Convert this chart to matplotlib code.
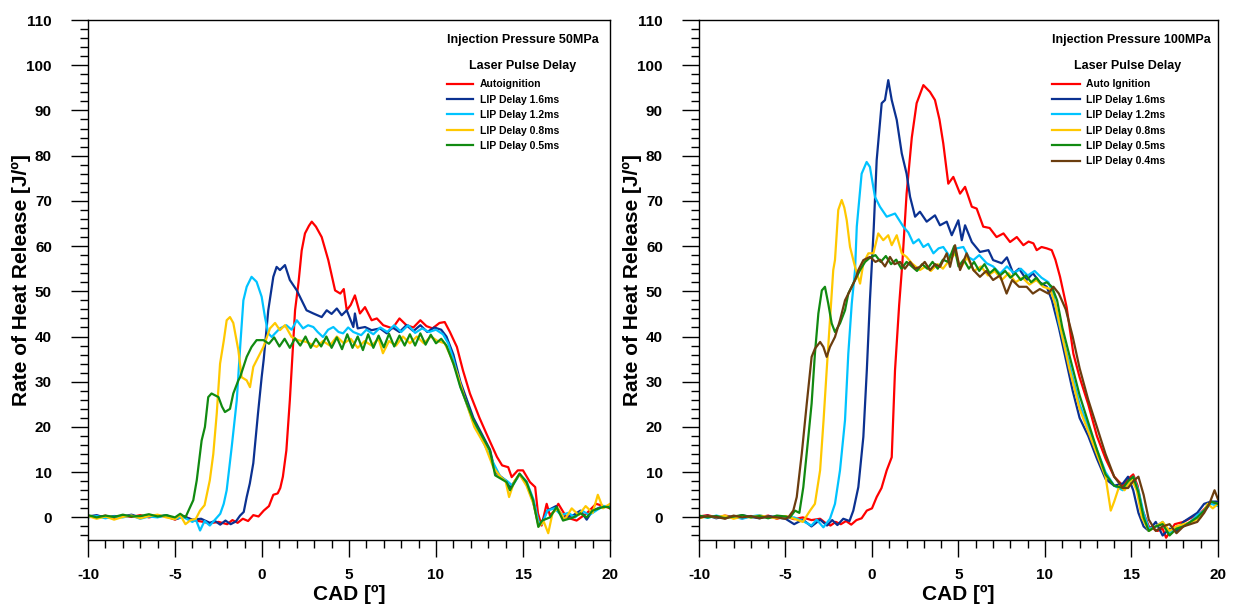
import matplotlib
matplotlib.use("Agg")
import matplotlib.pyplot as plt
from matplotlib.ticker import MultipleLocator

plt.rcParams['font.family'] = ['Liberation Sans', 'DejaVu Sans']
plt.rcParams['font.weight'] = 'bold'
plt.rcParams['axes.unicode_minus'] = False

# ---------- dados (CAD, J/º) ----------
# painel esquerdo: pressão de injeção 50 MPa
L_AUTO = [(-10, 0.3), (-9.5, 0.0), (-9, 0.4), (-8.5, -0.2), (-8, 0.3), (-7.5, 0.1), (-7, 0.5), (-6.5, 0.0),
          (-6, 0.4), (-5.5, 0.2), (-5, -0.5), (-4.5, 0.3), (-4, -0.6), (-3.5, -0.9), (-3, -1.3), (-2.5, -1.0),
          (-2, -1.5), (-1.7, -0.6), (-1.4, -1.2), (-1.1, -0.3), (-0.8, -0.8), (-0.5, 0.5), (-0.2, 0.2),
          (0.1, 1.5), (0.4, 2.5), (0.65, 5.0), (0.9, 5.3), (1.05, 6.5), (1.2, 9.0), (1.4, 14.8), (1.6, 25.9),
          (1.9, 45.8), (2.1, 52.0), (2.28, 59.0), (2.47, 62.8), (2.7, 64.5), (2.86, 65.4), (3.1, 64.3),
          (3.43, 62.0), (3.81, 56.9), (4.2, 50.2), (4.5, 49.5), (4.7, 50.5), (4.87, 45.8), (5.1, 47.0),
          (5.34, 49.1), (5.63, 45.1), (5.92, 46.5), (6.3, 43.6), (6.6, 44.0), (6.97, 42.5), (7.2, 42.2),
          (7.5, 41.8), (7.9, 44.0), (8.3, 42.5), (8.7, 42.0), (9.1, 43.6), (9.45, 42.3), (9.8, 41.8),
          (10.2, 43.0), (10.5, 43.2), (10.8, 41.0), (11.2, 37.7), (11.55, 32.5), (11.95, 27.4), (12.5, 22.0),
          (12.9, 18.5), (13.5, 13.4), (13.8, 11.5), (14.15, 11.1), (14.35, 8.9), (14.7, 10.4), (15.0, 10.4),
          (15.4, 7.8), (15.7, 6.7), (15.86, 0.9), (16.07, -1.8), (16.36, 3.0), (16.55, 0.4), (16.8, 1.5),
          (17.03, 3.0), (17.5, 0.0), (18.08, -0.7), (18.66, 0.9), (19.2, 3.0), (19.8, 2.3), (20, 2.0)]

L_D16 = [(-10, 0.2), (-9.5, 0.5), (-9, -0.1), (-8.5, 0.3), (-8, 0.2), (-7.5, 0.6), (-7, 0.0), (-6.5, 0.4),
         (-6, 0.1), (-5.5, 0.5), (-5, -0.4), (-4.5, 0.2), (-4, -0.5), (-3.5, -0.3), (-3, -1.2), (-2.7, -0.8),
         (-2.4, -1.6), (-2.1, -0.7), (-1.8, -1.5), (-1.5, -0.9), (-1.26, 0.4), (-1.05, 1.2), (-0.88, 4.5),
         (-0.7, 7.5), (-0.5, 12.0), (-0.23, 23.0), (-0.02, 31.0), (0.1, 35.0), (0.36, 45.8), (0.65, 53.2),
         (0.84, 55.4), (1.03, 54.7), (1.32, 55.8), (1.6, 52.5), (2.0, 50.2), (2.56, 45.8), (2.95, 45.1),
         (3.43, 44.3), (3.72, 45.8), (4.0, 45.0), (4.3, 46.2), (4.58, 44.7), (4.87, 45.8), (5.25, 42.1),
         (5.34, 45.1), (5.5, 41.8), (5.92, 42.1), (6.3, 41.4), (6.78, 41.8), (7.17, 40.7), (7.5, 42.0),
         (7.9, 41.0), (8.3, 42.5), (8.7, 41.2), (9.1, 42.5), (9.5, 41.0), (9.9, 42.0), (10.3, 41.5),
         (10.6, 40.0), (11.0, 36.0), (11.4, 30.0), (12.15, 22.0), (13.1, 15.0), (13.4, 10.0), (14.06, 8.0),
         (14.25, 6.5), (14.8, 9.5), (15.2, 7.5), (15.58, 3.5), (15.88, -1.5), (16.1, -1.0), (16.4, 1.5),
         (16.9, 2.5), (17.3, 0.0), (17.9, 0.5), (18.3, 1.5), (18.66, -0.5), (19.0, 1.5), (19.6, 2.5), (20, 2.5)]

L_D12 = [(-10, 0.0), (-9.5, 0.3), (-9, -0.2), (-8.5, 0.2), (-8, 0.0), (-7.5, 0.4), (-7, -0.3), (-6.5, 0.2),
         (-6, 0.0), (-5.5, 0.5), (-5, -0.3), (-4.5, 0.0), (-4, -1.0), (-3.8, -0.5), (-3.56, -2.9), (-3.3, -0.8),
         (-3.0, -1.8), (-2.7, -0.5), (-2.4, 0.8), (-2.2, 3.0), (-2.03, 6.0), (-1.74, 15.6), (-1.45, 25.9),
         (-1.25, 38.0), (-1.07, 48.0), (-0.88, 51.0), (-0.6, 53.2), (-0.31, 52.1), (-0.02, 48.8), (0.17, 44.3),
         (0.36, 40.7), (0.56, 39.9), (0.75, 40.7), (1.03, 41.8), (1.4, 42.5), (1.7, 41.5), (2.0, 43.6),
         (2.36, 41.8), (2.65, 42.5), (2.95, 42.1), (3.2, 41.0), (3.5, 39.9), (3.8, 41.5), (4.1, 42.1),
         (4.4, 41.0), (4.66, 40.7), (4.95, 42.0), (5.25, 41.0), (5.7, 40.3), (6.0, 41.5), (6.4, 40.5),
         (6.8, 42.0), (7.2, 41.0), (7.6, 42.5), (8.0, 41.0), (8.4, 42.5), (8.8, 40.8), (9.2, 41.8), (9.6, 41.0),
         (10.0, 41.5), (10.4, 40.5), (10.7, 38.5), (11.0, 35.0), (11.4, 29.0), (12.1, 21.5), (12.8, 16.0),
         (13.3, 12.0), (13.7, 9.0), (14.1, 8.0), (14.4, 7.0), (14.8, 9.5), (15.2, 8.0), (15.6, 4.0),
         (15.9, -1.0), (16.1, -1.5), (16.4, 1.5), (16.8, 2.0), (17.2, 0.5), (17.6, 1.0), (18.0, 0.0),
         (18.4, 1.5), (18.8, 0.5), (19.2, 1.5), (19.6, 2.5), (20, 2.5)]

L_D08 = [(-10, 0.3), (-9.5, -0.3), (-9, 0.2), (-8.5, -0.5), (-8, 0.1), (-7.5, 0.4), (-7, -0.2), (-6.5, 0.3),
         (-6, 0.6), (-5.5, 0.0), (-5, -0.4), (-4.7, 0.5), (-4.4, -1.5), (-4.1, -0.6), (-3.8, -0.3),
         (-3.56, 1.5), (-3.3, 2.7), (-3.0, 8.2), (-2.8, 14.0), (-2.6, 23.0), (-2.41, 34.0), (-2.2, 39.0),
         (-2.03, 43.6), (-1.84, 44.3), (-1.65, 43.0), (-1.36, 37.0), (-1.17, 31.0), (-0.88, 30.3),
         (-0.69, 28.8), (-0.5, 33.3), (-0.21, 35.5), (0.08, 37.7), (0.46, 41.8), (0.75, 43.0), (1.03, 41.4),
         (1.32, 42.5), (1.7, 39.9), (2.07, 39.2), (2.56, 38.8), (3.14, 37.7), (3.5, 39.0), (3.9, 38.0),
         (4.3, 40.0), (4.7, 38.5), (5.1, 39.5), (5.5, 37.5), (5.9, 39.0), (6.3, 38.0), (6.7, 39.5),
         (6.95, 36.3), (7.3, 39.0), (7.7, 38.0), (8.1, 40.0), (8.5, 38.5), (8.9, 40.0), (9.3, 38.5),
         (9.7, 40.0), (10.1, 39.0), (10.5, 38.5), (10.8, 36.0), (11.2, 32.0), (11.6, 27.0), (12.2, 20.0),
         (12.8, 16.0), (13.3, 11.0), (13.7, 9.0), (14.0, 8.0), (14.2, 4.5), (14.5, 8.0), (14.8, 9.5),
         (15.2, 7.0), (15.6, 3.0), (15.9, -2.0), (16.2, -1.0), (16.45, -3.5), (16.7, 1.0), (17.0, 2.0),
         (17.4, -0.5), (17.8, 2.0), (18.2, 0.5), (18.6, 2.5), (19.0, 1.0), (19.3, 5.0), (19.6, 2.0), (20, 3.0)]

L_D05 = [(-10, 0.5), (-9.5, 0.0), (-9, 0.4), (-8.5, 0.1), (-8, 0.6), (-7.5, 0.2), (-7, 0.3), (-6.5, 0.7),
         (-6, 0.2), (-5.5, 0.5), (-5.0, 0.0), (-4.7, 0.8), (-4.4, 0.0), (-4.14, 2.2), (-3.95, 3.8),
         (-3.75, 8.2), (-3.47, 17.0), (-3.28, 20.0), (-3.09, 26.6), (-2.9, 27.4), (-2.7, 27.0), (-2.5, 26.6),
         (-2.3, 24.5), (-2.13, 23.3), (-1.84, 24.0), (-1.65, 27.4), (-1.36, 30.3), (-1.26, 31.0),
         (-0.88, 35.5), (-0.6, 37.7), (-0.31, 39.2), (0.08, 39.2), (0.4, 38.4), (0.7, 39.8), (1.0, 37.8),
         (1.3, 39.5), (1.6, 37.5), (1.9, 39.6), (2.2, 38.0), (2.5, 40.0), (2.8, 37.5), (3.1, 39.5), (3.4, 37.8),
         (3.7, 40.0), (4.0, 37.5), (4.3, 39.8), (4.6, 37.2), (4.9, 40.5), (5.2, 37.5), (5.5, 40.0), (5.8, 37.0),
         (6.1, 40.5), (6.4, 37.5), (6.7, 40.2), (7.0, 37.6), (7.3, 40.6), (7.6, 37.8), (7.9, 40.2), (8.2, 38.0),
         (8.5, 40.5), (8.8, 38.0), (9.1, 40.7), (9.4, 38.2), (9.7, 40.4), (10.0, 38.5), (10.3, 39.5),
         (10.6, 38.0), (11.0, 34.0), (11.4, 28.8), (12.15, 21.5), (13.1, 14.8), (13.4, 9.3), (14.06, 7.8),
         (14.25, 6.0), (14.8, 9.7), (15.2, 7.8), (15.58, 3.8), (15.88, -2.1), (16.1, -0.7), (16.55, 0.0),
         (16.93, 2.3), (17.3, -0.7), (17.9, 0.0), (18.3, 0.9), (18.66, 0.0), (19.0, 1.5), (19.6, 2.3),
         (19.9, 2.3), (20, 2.0)]

# painel direito: pressão de injeção 100 MPa
R_AUTO = [(-10, 0.2), (-9.5, 0.5), (-9, 0.0), (-8.5, 0.4), (-8, 0.1), (-7.5, -0.2), (-7, 0.3), (-6.5, 0.0),
          (-6, 0.4), (-5.5, -0.3), (-5, 0.2), (-4.5, -0.4), (-4, 0.0), (-3.5, -0.6), (-3, -0.3), (-2.7, -1.2),
          (-2.4, -1.8), (-2.1, -1.0), (-1.8, -1.5), (-1.5, -0.8), (-1.2, -1.6), (-0.9, -0.6), (-0.6, -0.2),
          (-0.3, 1.5), (0.0, 2.0), (0.27, 4.5), (0.55, 6.5), (0.85, 10.4), (1.14, 13.3), (1.33, 32.5),
          (1.57, 47.0), (1.75, 56.0), (2.0, 71.6), (2.3, 84.0), (2.58, 91.6), (2.97, 95.6), (3.35, 94.1),
          (3.64, 92.3), (3.9, 88.0), (4.12, 82.7), (4.41, 73.8), (4.7, 75.3), (5.09, 71.6), (5.38, 73.1),
          (5.77, 68.7), (6.05, 68.3), (6.43, 64.3), (6.8, 64.0), (7.2, 62.0), (7.6, 62.8), (7.98, 60.9),
          (8.37, 62.0), (8.75, 60.2), (9.05, 61.0), (9.33, 60.6), (9.52, 59.1), (9.8, 59.8), (10.1, 59.5),
          (10.39, 59.1), (10.6, 57.0), (10.87, 53.2), (11.25, 46.5), (11.64, 36.2), (12.0, 31.0), (12.5, 25.0),
          (13.0, 18.0), (13.5, 13.0), (14.0, 9.0), (14.5, 7.0), (14.8, 8.5), (15.1, 9.5), (15.35, 7.0),
          (15.6, 2.0), (16.0, -2.0), (16.5, -3.0), (16.8, -2.5), (17.0, -4.5), (17.5, -1.5), (18.0, -1.0),
          (18.5, 0.0), (19.0, 1.0), (19.5, 3.0), (20, 3.0)]

R_D16 = [(-10, 0.0), (-9.5, 0.4), (-9, -0.2), (-8.5, 0.3), (-8, 0.0), (-7.5, 0.5), (-7, 0.1), (-6.5, -0.2),
         (-6, 0.3), (-5.5, 0.0), (-5, -0.3), (-4.5, -1.5), (-4, -0.5), (-3.5, -2.0), (-3.0, -0.5), (-2.6, -1.8),
         (-2.3, -0.6), (-2.0, -1.7), (-1.66, -0.3), (-1.3, -0.8), (-1.08, 1.5), (-0.79, 6.7), (-0.5, 17.8),
         (-0.3, 32.5), (-0.12, 48.0), (0.1, 64.0), (0.27, 79.0), (0.56, 91.6), (0.75, 92.3), (0.94, 96.7),
         (1.14, 92.3), (1.43, 87.9), (1.72, 80.5), (2.0, 76.0), (2.2, 70.9), (2.49, 66.5), (2.77, 67.6),
         (3.16, 65.4), (3.64, 66.8), (3.93, 64.6), (4.32, 65.4), (4.61, 62.4), (4.99, 65.7), (5.19, 61.3),
         (5.38, 64.6), (5.77, 60.9), (6.24, 58.7), (6.73, 59.1), (7.0, 56.9), (7.5, 56.2), (7.8, 57.5),
         (8.17, 53.9), (8.5, 55.0), (8.94, 52.5), (9.3, 54.0), (9.7, 52.0), (10.1, 51.0), (10.4, 48.0),
         (10.8, 42.0), (11.2, 35.0), (11.6, 28.0), (12.0, 22.0), (12.5, 18.0), (13.0, 13.0), (13.5, 8.5),
         (14.0, 7.0), (14.5, 7.5), (14.8, 9.0), (15.1, 6.0), (15.4, 1.0), (15.7, -2.0), (16.0, -3.0),
         (16.4, -1.0), (16.8, -4.0), (17.2, -2.5), (17.6, -3.0), (18.0, -1.0), (18.4, 0.0), (18.8, 1.0),
         (19.2, 3.0), (19.6, 3.5), (20, 3.5)]

R_D12 = [(-10, 0.3), (-9.5, -0.1), (-9, 0.4), (-8.5, 0.0), (-8, 0.2), (-7.5, -0.3), (-7, 0.2), (-6.5, 0.5),
         (-6, -0.1), (-5.5, 0.3), (-5, 0.0), (-4.5, 0.0), (-4.0, -0.8), (-3.5, -1.8), (-3.2, -0.5),
         (-2.81, -2.2), (-2.43, -0.3), (-2.14, 3.0), (-1.85, 10.4), (-1.56, 21.5), (-1.37, 36.2),
         (-1.17, 47.3), (-0.98, 54.7), (-0.88, 64.3), (-0.6, 76.0), (-0.31, 78.6), (-0.12, 77.5), (0.17, 70.9),
         (0.46, 68.7), (0.85, 66.5), (1.33, 67.2), (1.81, 64.3), (2.1, 63.0), (2.39, 60.6), (2.7, 61.5),
         (2.97, 59.8), (3.25, 60.5), (3.55, 58.4), (3.85, 59.5), (4.12, 59.8), (4.51, 57.6), (4.9, 59.5),
         (5.28, 59.8), (5.6, 57.5), (5.86, 56.9), (6.2, 58.0), (6.63, 56.2), (7.0, 55.5), (7.4, 53.9),
         (7.8, 55.5), (8.2, 54.0), (8.6, 55.0), (9.0, 53.5), (9.4, 54.5), (9.8, 53.0), (10.2, 52.0),
         (10.5, 49.0), (10.8, 43.0), (11.2, 37.0), (11.6, 31.0), (12.0, 25.0), (12.5, 20.0), (13.0, 15.0),
         (13.5, 10.0), (14.0, 7.0), (14.5, 6.0), (14.8, 7.5), (15.1, 9.0), (15.4, 6.0), (15.7, 1.0),
         (16.0, -2.5), (16.4, -2.0), (16.8, -1.0), (17.2, -3.5), (17.6, -2.0), (18.0, -2.0), (18.4, -1.0),
         (18.8, 0.5), (19.2, 1.5), (19.6, 3.0), (20, 2.5)]

R_D08 = [(-10, -0.2), (-9.5, 0.3), (-9, 0.0), (-8.5, 0.4), (-8, -0.3), (-7.5, 0.2), (-7, 0.0), (-6.5, 0.4),
         (-6, 0.1), (-5.5, -0.2), (-5, 0.3), (-4.5, -0.3), (-4.0, -1.0), (-3.58, 1.5), (-3.3, 3.0),
         (-3.0, 10.4), (-2.8, 21.5), (-2.62, 32.5), (-2.43, 43.6), (-2.24, 54.7), (-2.14, 56.9), (-1.95, 68.0),
         (-1.75, 70.2), (-1.6, 68.5), (-1.46, 65.7), (-1.27, 59.8), (-0.98, 55.4), (-0.69, 51.7),
         (-0.5, 56.2), (-0.21, 58.4), (0.08, 58.4), (0.36, 62.8), (0.65, 61.3), (0.94, 62.4), (1.14, 60.2),
         (1.43, 62.4), (1.72, 58.4), (2.0, 57.6), (2.3, 56.2), (2.77, 54.7), (3.1, 55.5), (3.4, 54.5),
         (3.8, 56.0), (4.1, 55.0), (4.5, 57.0), (4.85, 58.5), (5.1, 55.0), (5.5, 57.5), (5.9, 54.5),
         (6.3, 55.5), (6.7, 53.5), (7.1, 54.5), (7.5, 52.5), (7.9, 54.0), (8.3, 52.0), (8.7, 53.0),
         (9.1, 51.5), (9.5, 52.5), (9.9, 51.0), (10.3, 50.5), (10.6, 47.0), (11.0, 40.0), (11.4, 33.0),
         (12.0, 24.0), (12.5, 19.0), (13.0, 14.0), (13.5, 9.0), (13.8, 1.5), (14.0, 3.5), (14.3, 7.0),
         (14.6, 6.0), (15.0, 8.5), (15.3, 6.0), (15.6, 0.0), (16.0, -3.0), (16.4, -2.0), (16.8, -1.0),
         (17.2, -3.0), (17.6, -2.0), (18.0, -1.5), (18.5, -1.0), (19.0, 0.0), (19.4, 3.0), (19.7, 2.0),
         (20, 3.0)]

R_D05 = [(-10, 0.4), (-9.5, 0.0), (-9, 0.3), (-8.5, -0.2), (-8, 0.2), (-7.5, 0.5), (-7, 0.0), (-6.5, 0.3),
         (-6, -0.2), (-5.5, 0.4), (-5.0, 0.2), (-4.74, 0.0), (-4.45, 1.5), (-4.2, 1.0), (-3.97, 6.7),
         (-3.68, 17.8), (-3.49, 25.2), (-3.3, 36.2), (-3.1, 45.1), (-2.9, 50.2), (-2.72, 51.0), (-2.53, 47.3),
         (-2.33, 42.9), (-2.14, 41.0), (-1.85, 42.9), (-1.56, 45.8), (-1.37, 49.5), (-0.98, 52.5),
         (-0.69, 54.7), (-0.4, 56.5), (-0.1, 57.5), (0.2, 58.0), (0.5, 56.5), (0.8, 57.8), (1.1, 56.0),
         (1.4, 57.0), (1.7, 55.0), (2.0, 56.5), (2.3, 55.5), (2.6, 54.5), (2.9, 56.0), (3.2, 55.0), (3.5, 56.5),
         (3.8, 55.0), (4.1, 57.0), (4.4, 56.5), (4.75, 60.0), (5.0, 55.5), (5.3, 57.0), (5.6, 55.0),
         (5.9, 56.5), (6.2, 54.5), (6.5, 56.0), (6.8, 54.0), (7.1, 55.0), (7.4, 53.5), (7.7, 54.5), (8.0, 53.0),
         (8.3, 54.0), (8.6, 52.5), (8.9, 53.5), (9.2, 52.0), (9.5, 53.0), (9.8, 51.5), (10.1, 52.0),
         (10.4, 51.0), (10.7, 48.0), (11.0, 42.0), (11.4, 36.0), (12.0, 27.0), (12.5, 21.0), (13.0, 15.0),
         (13.5, 9.5), (14.0, 7.0), (14.5, 6.5), (14.8, 8.0), (15.1, 9.0), (15.4, 5.5), (15.7, 0.0),
         (16.0, -3.0), (16.4, -2.0), (16.8, -1.5), (17.2, -4.0), (17.6, -2.5), (18.0, -2.0), (18.4, -1.0),
         (18.8, 0.0), (19.2, 1.5), (19.6, 3.5), (20, 3.0)]

R_D04 = [(-10, -0.1), (-9.5, 0.3), (-9, 0.1), (-8.5, -0.3), (-8, 0.4), (-7.5, 0.0), (-7, 0.3), (-6.5, -0.2),
         (-6, 0.2), (-5.5, 0.0), (-5.0, -0.3), (-4.84, 0.0), (-4.55, 1.5), (-4.35, 4.5), (-4.06, 14.1),
         (-3.77, 25.2), (-3.49, 35.5), (-3.3, 37.3), (-3.0, 38.8), (-2.81, 37.7), (-2.62, 35.5), (-2.43, 37.7),
         (-2.14, 39.9), (-1.85, 43.6), (-1.56, 48.0), (-1.27, 50.2), (-0.98, 52.5), (-0.79, 54.7),
         (-0.5, 56.9), (-0.12, 57.6), (0.2, 56.5), (0.46, 57.0), (0.75, 55.5), (1.04, 57.6), (1.3, 56.0),
         (1.62, 56.5), (1.9, 55.0), (2.2, 56.5), (2.5, 55.0), (2.77, 55.4), (3.05, 56.5), (3.35, 54.7),
         (3.65, 56.0), (3.93, 55.4), (4.32, 58.4), (4.51, 55.4), (4.8, 60.2), (5.09, 54.7), (5.47, 58.4),
         (5.86, 54.7), (6.24, 53.2), (6.6, 54.5), (7.0, 52.5), (7.4, 53.5), (7.78, 49.5), (8.1, 52.5),
         (8.5, 51.0), (8.94, 51.0), (9.3, 49.5), (9.7, 50.5), (10.19, 49.5), (10.49, 51.0), (10.8, 49.5),
         (11.2, 46.0), (11.6, 40.0), (12.0, 33.0), (12.5, 26.0), (13.0, 20.0), (13.5, 14.0), (14.0, 9.0),
         (14.5, 6.5), (14.8, 6.5), (15.1, 8.0), (15.4, 9.0), (15.7, 5.0), (16.0, -0.5), (16.4, -3.0),
         (16.8, -2.0), (17.2, -1.5), (17.6, -3.5), (18.0, -2.0), (18.4, -1.5), (18.8, -1.0), (19.2, 1.0),
         (19.5, 3.0), (19.8, 6.0), (20, 4.0)]

LEFT_LABELS = ["Autoignition", "LIP Delay 1.6ms", "LIP Delay 1.2ms", "LIP Delay 0.8ms", "LIP Delay 0.5ms"]
RIGHT_LABELS = ["Auto Ignition", "LIP Delay 1.6ms", "LIP Delay 1.2ms", "LIP Delay 0.8ms",
                "LIP Delay 0.5ms", "LIP Delay 0.4ms"]
COLORS = ["#ff0000", "#0b3191", "#00c3ff", "#ffc800", "#118a11", "#6b3d0f"]
PRESSURES = ["Injection Pressure 50MPa", "Injection Pressure 100MPa"]
XTICKS = [-10, -5, 0, 5, 10, 15, 20]
YTICKS = [0, 10, 20, 30, 40, 50, 60, 70, 80, 90, 100, 110]


def draw_panel(ax, series, labels, pressure, leg_x, hlen):
    for pts, lab, col in zip(series, labels, COLORS):
        xs = [p[0] for p in pts]
        ys = [p[1] for p in pts]
        ax.plot(xs, ys, color=col, lw=1.6, label=lab)

    ax.set_xlim(-10, 20)
    ax.set_ylim(-5, 110)
    ax.set_xticks(XTICKS)
    ax.set_yticks(YTICKS)
    ax.xaxis.set_minor_locator(MultipleLocator(1))
    ax.yaxis.set_minor_locator(MultipleLocator(2))
    ax.tick_params(which='major', direction='out', length=12, width=1, labelsize=11, top=False, right=False)
    ax.tick_params(which='minor', direction='out', length=6, width=1, top=False, right=False)
    ax.tick_params(axis='x', which='major', pad=8)
    ax.tick_params(axis='y', which='major', pad=14)
    for lbl in ax.get_xticklabels() + ax.get_yticklabels():
        lbl.set_fontweight('bold')
    for sp in ax.spines.values():
        sp.set_linewidth(1.0)

    ax.set_xlabel("CAD [º]", fontsize=15, fontweight='bold', labelpad=2)
    ax.set_ylabel("Rate of Heat Release [J/º]", fontsize=15, fontweight='bold', labelpad=-3)

    ax.text(leg_x, 0.962, pressure, transform=ax.transAxes, fontsize=9, fontweight='bold',
            ha='left', va='center')
    ax.text(leg_x + 0.145, 0.9115, "Laser Pulse Delay", transform=ax.transAxes, fontsize=9,
            fontweight='bold', ha='center', va='center')
    ax.legend(loc='upper left', bbox_to_anchor=(leg_x, 0.886), frameon=False, borderpad=0,
              borderaxespad=0, handlelength=hlen, handletextpad=0.65, labelspacing=0.52,
              prop={'weight': 'bold', 'size': 7.5})


fig = plt.figure(figsize=(12.33, 6.10), dpi=100)
ax1 = fig.add_axes([88 / 1233, 70 / 610, 522 / 1233, 520 / 610])
ax2 = fig.add_axes([699 / 1233, 70 / 610, 519 / 1233, 520 / 610])

draw_panel(ax1, [L_AUTO, L_D16, L_D12, L_D08, L_D05], LEFT_LABELS, PRESSURES[0], 0.688, 2.5)
draw_panel(ax2, [R_AUTO, R_D16, R_D12, R_D08, R_D05, R_D04], RIGHT_LABELS, PRESSURES[1], 0.681, 2.6)

fig.savefig("out.png", dpi=100)
